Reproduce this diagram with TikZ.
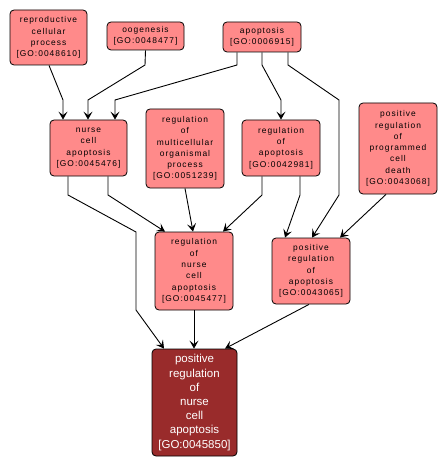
\documentclass[tikz,border=0pt]{standalone}
\usepackage{fontspec}
\setmainfont{Liberation Sans}
\newfontfamily\lightfont[LetterSpace=12]{Liberation Sans}
\usetikzlibrary{arrows.meta}
\definecolor{lightnode}{RGB}{255,138,138}
\definecolor{darknode}{RGB}{153,43,43}
\begin{document}
\begin{tikzpicture}[x=1pt,y=-1pt,
 term/.style={draw=black, fill=lightnode, rounded corners=4pt, align=center,
   font=\lightfont\fontsize{8.4}{11.3}\selectfont, inner sep=0pt, line width=0.8pt},
 focus/.style={draw=black, fill=darknode, text=white, rounded corners=4pt, align=center,
   font=\fontsize{11.5}{14.2}\selectfont, inner sep=0pt, line width=0.8pt},
 edge/.style={line width=0.9pt, -{Stealth[length=8pt,width=9pt,inset=3.5pt]}}]
\useasboundingbox (0,0) rectangle (447,468);
\node[term, minimum width=77pt, minimum height=55pt] (rcp) at (48.5,37.5) {reproductive\\cellular\\process\\{[GO:0048610]}};
\node[term, minimum width=77pt, minimum height=28pt] (oog) at (145.5,36) {oogenesis\\{[GO:0048477]}};
\node[term, minimum width=78pt, minimum height=30pt] (apo) at (262,37) {apoptosis\\{[GO:0006915]}};
\node[term, minimum width=77pt, minimum height=56pt] (nca) at (88.5,148) {nurse\\cell\\apoptosis\\{[GO:0045476]}};
\node[term, minimum width=78pt, minimum height=79pt] (rmo) at (185,148.5) {regulation\\of\\multicellular\\organismal\\process\\{[GO:0051239]}};
\node[term, minimum width=78pt, minimum height=56pt] (rap) at (281,148) {regulation\\of\\apoptosis\\{[GO:0042981]}};
\node[term, minimum width=78pt, minimum height=91pt] (ppcd) at (398,148.5) {positive\\regulation\\of\\programmed\\cell\\death\\{[GO:0043068]}};
\node[term, minimum width=78pt, minimum height=78pt] (rnca) at (194,271) {regulation\\of\\nurse\\cell\\apoptosis\\{[GO:0045477]}};
\node[term, minimum width=78pt, minimum height=66pt] (pra) at (311,271) {positive\\regulation\\of\\apoptosis\\{[GO:0043065]}};
\node[focus, minimum width=85pt, minimum height=107pt] (pnca) at (194.5,402.5) {positive\\regulation\\of\\nurse\\cell\\apoptosis\\{[GO:0045850]}};
% edges
\draw[edge] (rcp.south -| 49,0) -- (63,100) -- (nca.north -| 63,0);
\draw[edge] (oog.south) -- (145,65) -- (88,100) -- (nca.north -| 88,0);
\draw[edge] (apo.south -| 237,0) -- (237,65) -- (115,100) -- (nca.north -| 115,0);
\draw[edge] (apo.south -| 262,0) -- (262,65) -- (281,100) -- (rap.north -| 281,0);
\draw[edge] (apo.south -| 288,0) -- (288,65) -- (339,100) -- (339,195) -- (pra.north -| 312,0);
\draw[edge] (nca.south -| 68,0) -- (68,195) -- (136,232) -- (136,310) -- (pnca.north -| 164,0);
\draw[edge] (nca.south -| 108,0) -- (108,195) -- (rnca.north -| 165,0);
\draw[edge] (rmo.south) -- (rnca.north -| 193,0);
\draw[edge] (rap.south -| 262,0) -- (262,195) -- (rnca.north -| 223,0);
\draw[edge] (rap.south -| 300,0) -- (300,195) -- (pra.north -| 285,0);
\draw[edge] (ppcd.south -| 386,0) -- (pra.north -| 340,0);
\draw[edge] (rnca.south) -- (pnca.north -| 194,0);
\draw[edge] (pra.south -| 309,0) -- (pnca.north -| 225,0);
\end{tikzpicture}
\end{document}
